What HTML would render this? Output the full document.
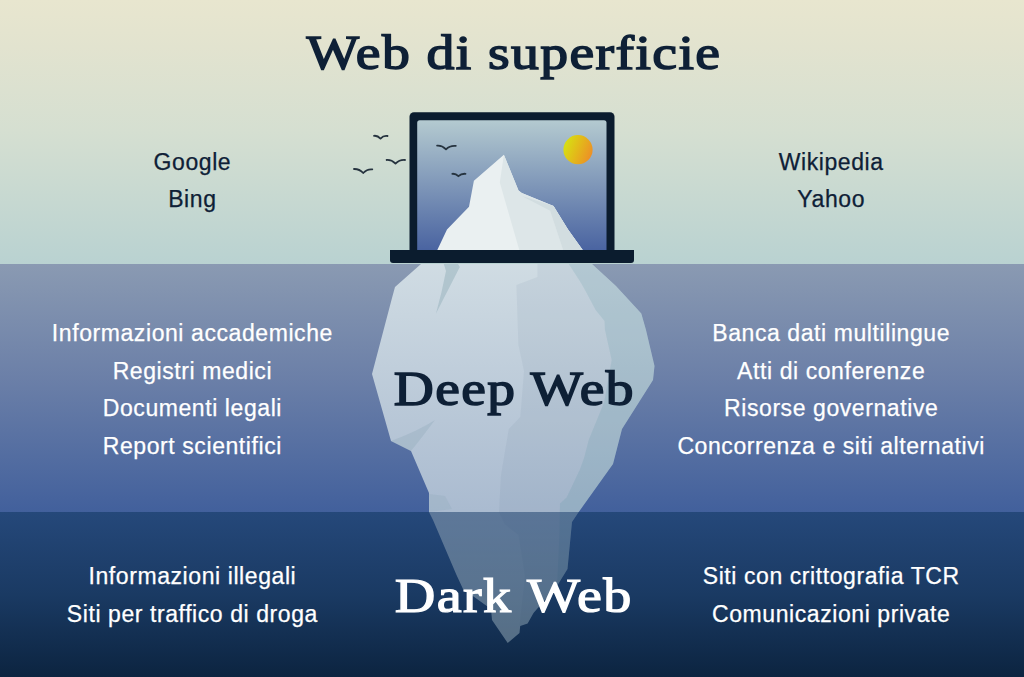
<!DOCTYPE html>
<html><head><meta charset="utf-8">
<style>
html,body{margin:0;padding:0;}
body{width:1024px;height:677px;position:relative;overflow:hidden;background:#0c2440;}
.band{position:absolute;left:0;width:1024px;}
#b1{top:0;height:264px;background:linear-gradient(#e8e6cf,#e2e3cf 18%,#d5dfd1 50%,#b9d2d1);}
#b2{top:264px;height:248px;background:linear-gradient(#8a9ab2,#6c80a8 45%,#42609c);}
#b3{top:512px;height:165px;background:linear-gradient(#25487a,#1a3a63 50%,#0c2440);}
svg{position:absolute;left:0;top:0;}
.t{position:absolute;font-family:"Liberation Sans",sans-serif;font-size:23px;line-height:37.4px;letter-spacing:0.58px;-webkit-text-stroke:0.25px currentColor;text-align:center;white-space:nowrap;}
.l{left:0.4px;width:384px;}
.r{left:637.2px;width:388px;}
.dk{color:#0e2036;}
.wh{color:#ffffff;}
.h{position:absolute;left:0;width:1024px;text-align:center;font-family:"Liberation Serif",serif;font-weight:normal;-webkit-text-stroke:1.5px currentColor;font-size:48px;line-height:50px;white-space:nowrap;}
.h span{display:inline-block;transform:scaleX(1.155);transform-origin:50% 50%;letter-spacing:1.2px;}
</style></head>
<body>
<div class="band" id="b1"></div>
<div class="band" id="b2"></div>
<div class="band" id="b3"></div>

<svg width="1024" height="677" viewBox="0 0 1024 677">
<defs>
  <linearGradient id="sky" x1="0" y1="0" x2="0" y2="1">
    <stop offset="0" stop-color="#b4cad0"/>
    <stop offset="1" stop-color="#4862a0"/>
  </linearGradient>
  <linearGradient id="sun" x1="0" y1="0.3" x2="1" y2="0.7">
    <stop offset="0" stop-color="#d6e212"/>
    <stop offset="0.5" stop-color="#e3b81a"/>
    <stop offset="1" stop-color="#ed8d28"/>
  </linearGradient>
  <linearGradient id="ice" x1="0" y1="264" x2="0" y2="643" gradientUnits="userSpaceOnUse">
    <stop offset="0" stop-color="#d0dce3"/>
    <stop offset="0.65" stop-color="#aabbd0"/>
    <stop offset="1" stop-color="#9fb2c9"/>
  </linearGradient>
  <linearGradient id="ice2" x1="0" y1="512" x2="0" y2="643" gradientUnits="userSpaceOnUse">
    <stop offset="0" stop-color="#abbac5"/>
    <stop offset="1" stop-color="#b4c8d0"/>
  </linearGradient>
  <clipPath id="above"><rect x="0" y="0" width="1024" height="512"/></clipPath>
  <clipPath id="below"><rect x="0" y="512" width="1024" height="165"/></clipPath>

</defs>

<!-- underwater iceberg -->
<g clip-path="url(#above)">
    <path d="M421,264 L395,287 L392,298 L372,374 L391,441 L411,451 L429,493 L429,512 L433,520 L456.5,575 L463,589 L491,609 L492,620 L507.7,643 L519.5,633 L520.2,626 L527.6,623.6 L533.5,613 L557,586 L567.5,569 L572,522 L578,513 L613,464 L622,429 L653,380 L654.5,366 L646,330 L641.3,313.6 L616,286 L592,264 Z" fill="url(#ice)"/>
    <path d="M537.5,264 L537.5,277 L516.4,285 L518.4,344.5 L524,371 L520.3,417 L508.8,429 L501,475 L499,512 L504.6,524 L518.5,535 L525,576 L519.6,625 L520.2,626 L527.6,623.6 L533.5,613 L557,586 L567.5,569 L572,522 L578,513 L613,464 L622,429 L653,380 L654.5,366 L646,330 L641.3,313.6 L616,286 L592,264 Z" fill="#4d6a85" opacity="0.07"/>
    <path d="M568.7,264 L592,264 L616,286 L641.3,313.6 L646,330 L654.5,366 L653,380 L622,429 L613,464 L578,513 L572,522 L567.5,569 L557,586 L559.2,540 L560,503.5 L566.6,497.6 L579.9,469.5 L584.2,457.6 L588.7,440 L604.2,402 L611.7,360 L605,330 L604.5,321 L595.6,310 L585,290 L580.4,282 Z" fill="#4d8a99" opacity="0.15"/>
    <path d="M443.8,264 L446,271 Q442,292 436,313.5 L459.8,267 L458,264 Z" fill="#9fb8c2" opacity="0.6"/>
    <path d="M391,441 Q418,431 435,420 Q420,440 411,451 Z" fill="#8aa6b6" opacity="0.3"/>
    <path d="M429,494 L445,496 L452,509 L429,512 Z" fill="#8aa6b6" opacity="0.25"/>
  </g>
<g clip-path="url(#below)" opacity="0.42">
    <path d="M421,264 L395,287 L392,298 L372,374 L391,441 L411,451 L429,493 L429,512 L433,520 L456.5,575 L463,589 L491,609 L492,620 L507.7,643 L519.5,633 L520.2,626 L527.6,623.6 L533.5,613 L557,586 L567.5,569 L572,522 L578,513 L613,464 L622,429 L653,380 L654.5,366 L646,330 L641.3,313.6 L616,286 L592,264 Z" fill="url(#ice2)"/>
    <path d="M537.5,264 L537.5,277 L516.4,285 L518.4,344.5 L524,371 L520.3,417 L508.8,429 L501,475 L499,512 L504.6,524 L518.5,535 L525,576 L519.6,625 L520.2,626 L527.6,623.6 L533.5,613 L557,586 L567.5,569 L572,522 L578,513 L613,464 L622,429 L653,380 L654.5,366 L646,330 L641.3,313.6 L616,286 L592,264 Z" fill="#4d6a85" opacity="0.07"/>
    <path d="M568.7,264 L592,264 L616,286 L641.3,313.6 L646,330 L654.5,366 L653,380 L622,429 L613,464 L578,513 L572,522 L567.5,569 L557,586 L559.2,540 L560,503.5 L566.6,497.6 L579.9,469.5 L584.2,457.6 L588.7,440 L604.2,402 L611.7,360 L605,330 L604.5,321 L595.6,310 L585,290 L580.4,282 Z" fill="#4d8a99" opacity="0.15"/>
    <path d="M443.8,264 L446,271 Q442,292 436,313.5 L459.8,267 L458,264 Z" fill="#9fb8c2" opacity="0.6"/>
    <path d="M391,441 Q418,431 435,420 Q420,440 411,451 Z" fill="#8aa6b6" opacity="0.3"/>
    <path d="M429,494 L445,496 L452,509 L429,512 Z" fill="#8aa6b6" opacity="0.25"/>
  </g>

<!-- laptop -->
<rect x="409.5" y="112.3" width="205" height="146" rx="4.5" fill="#0b1c2e"/>
<rect x="417.2" y="120.2" width="189.3" height="132" rx="2.5" fill="url(#sky)"/>
<circle cx="578" cy="149.7" r="14.6" fill="url(#sun)"/>
<!-- screen iceberg -->
<path d="M503.9,154.7 L473.9,180.7 L469,206.7 L447,229.5 L437.3,250 L582.7,250 L568,229.5 L553.5,206 L521.8,192.9 L518.5,190.5 Z" fill="#eaf0f1"/>
<path d="M503.9,154.7 L499.8,182.4 L509.6,216.5 L519.3,250 L582.7,250 L568,229.5 L553.5,206 L521.8,192.9 L518.5,190.5 Z" fill="#dde6e8"/>
<path d="M521.8,196 L550.2,210.8 L563.2,250 L582.7,250 L568,229.5 L553.5,206 Z" fill="#d2dde0"/>
<!-- base -->
<path d="M390,250 H634 V260 Q634,263 631,263 H393 Q390,263 390,260 Z" fill="#0b1c2e"/>

<!-- birds -->
<g fill="none" stroke="#26333f" stroke-width="1.8" stroke-linecap="round" stroke-linejoin="round">
  <path d="M374,135.8 Q377.5,135.3 380.5,138.6 Q383.5,135.3 387.5,136"/>
  <path d="M386.6,160 Q391.5,159.6 395.5,163.6 Q399.5,159.6 405,160"/>
  <path d="M354,169 Q359.3,168.8 363.2,173 Q367.2,168.8 372.3,169.4"/>
  <path d="M437.1,145.7 Q442,145.3 446,149.3 Q450,145.3 455.8,145.9"/>
  <path d="M452.3,173.8 Q455.8,173.5 458.4,176.2 Q461.2,173.5 465.5,173.8"/>
</g>
</svg>

<div class="h dk" style="top:28.2px;left:2px;"><span style="transform:scaleX(1.16)">Web di superficie</span></div>
<div class="h dk" style="top:364.3px;left:2px;"><span>Deep Web</span></div>
<div class="h wh" style="top:571.3px;left:2px;"><span style="transform:scaleX(1.17);-webkit-text-stroke-width:1.2px;">Dark Web</span></div>

<div class="t l dk" style="top:143.6px;">Google<br>Bing</div>
<div class="t r dk" style="top:143.6px;">Wikipedia<br>Yahoo</div>

<div class="t l wh" style="top:315.3px;">Informazioni accademiche<br>Registri medici<br>Documenti legali<br>Report scientifici</div>
<div class="t r wh" style="top:315.3px;">Banca dati multilingue<br>Atti di conferenze<br>Risorse governative<br>Concorrenza e siti alternativi</div>

<div class="t l wh" style="top:558.1px;">Informazioni illegali<br>Siti per traffico di droga</div>
<div class="t r wh" style="top:558.1px;">Siti con crittografia TCR<br>Comunicazioni private</div>
</body></html>
